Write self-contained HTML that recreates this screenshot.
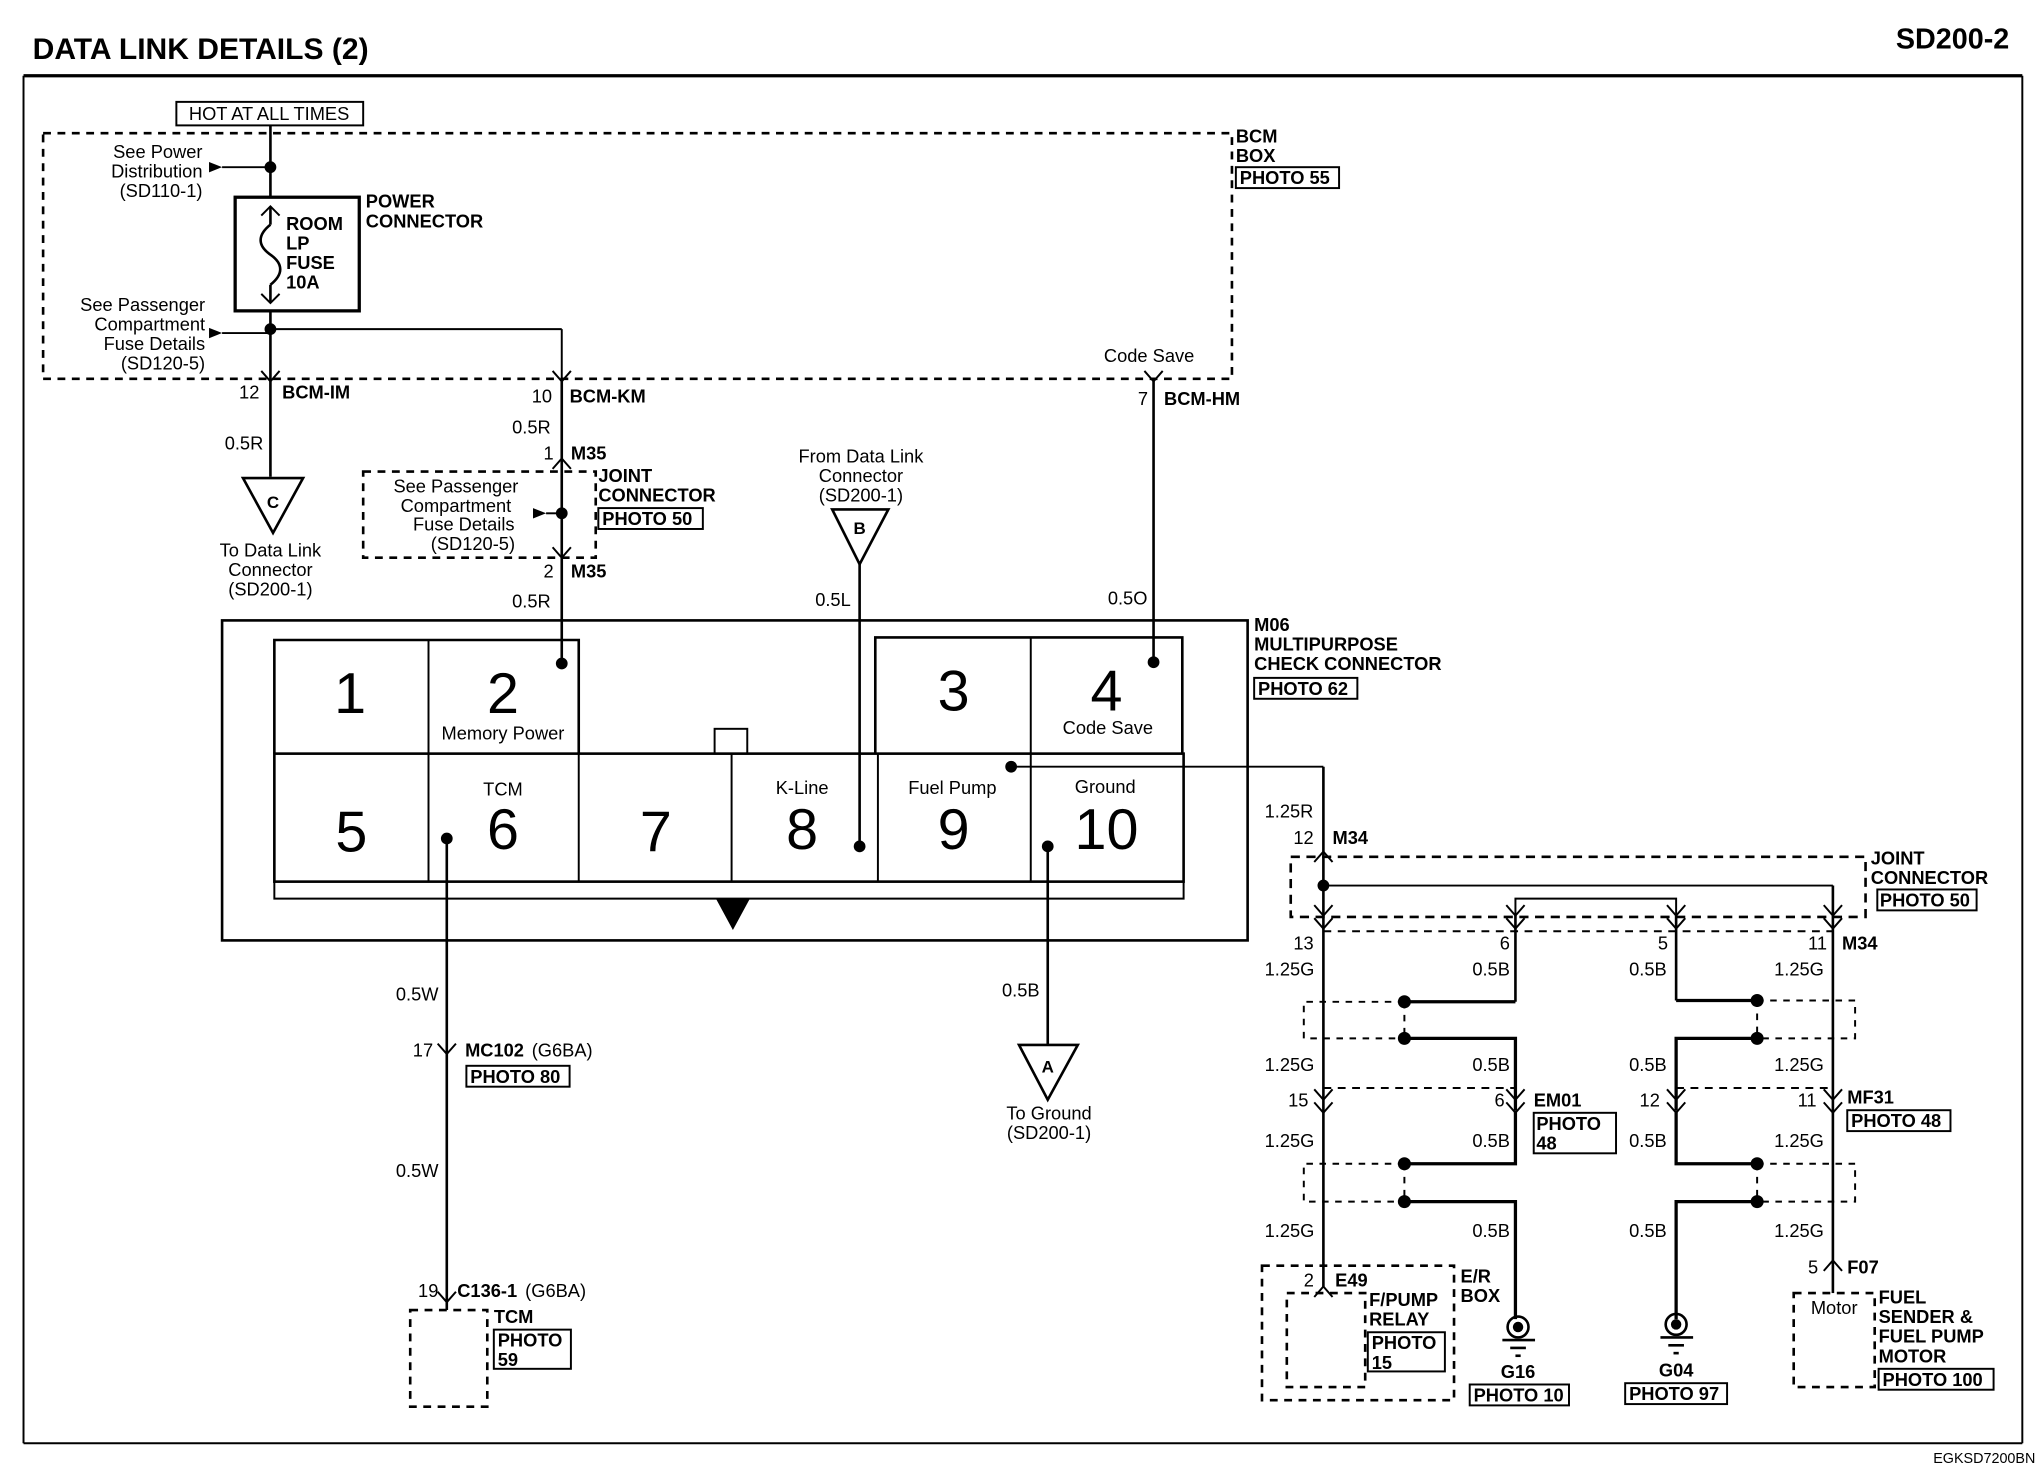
<!DOCTYPE html>
<html><head><meta charset="utf-8"><style>
html,body{margin:0;padding:0;background:#fff}
svg{display:block}
text{font-family:"Liberation Sans",Arial,sans-serif;fill:#000}
.l{font-size:14px}
.b{font-size:14px;font-weight:bold}
.n{font-size:44px}
.s{font-size:14px}
</style></head><body>
<svg width="2038" height="1472" viewBox="0 0 1560 1127" preserveAspectRatio="none" xmlns="http://www.w3.org/2000/svg">
<g stroke="#000" fill="none" stroke-width="1.5">
<!-- frame -->
<line x1="18" y1="58" x2="1548" y2="58" stroke-width="2.5"/>
<line x1="18" y1="58" x2="18" y2="1105"/>
<line x1="1548" y1="58" x2="1548" y2="1105"/>
<line x1="18" y1="1105" x2="1548" y2="1105"/>
<!-- BCM box -->
<rect x="33" y="102" width="910" height="188" stroke-dasharray="6,5" stroke-width="2"/>
<rect x="135" y="78" width="143" height="18"/>
<rect x="946" y="128" width="79" height="16"/>
<!-- main wire 207 -->
<line x1="207" y1="96" x2="207" y2="151" stroke-width="2"/>
<line x1="207" y1="128" x2="170" y2="128"/>
<rect x="180" y="151" width="95" height="87" stroke-width="2.5"/>
<line x1="207" y1="158" x2="207" y2="172" stroke-width="2"/>
<path d="M200 165 L207 158 L214 165"/>
<path d="M207 172 C197 180 197 188 207 195 C217 202 217 210 207 218" stroke-width="2"/>
<line x1="207" y1="218" x2="207" y2="232" stroke-width="2"/>
<path d="M200 225 L207 232 L214 225"/>
<line x1="207" y1="238" x2="207" y2="365" stroke-width="2"/>
<line x1="207" y1="255" x2="170" y2="255"/>
<line x1="207" y1="252" x2="430" y2="252"/>
<line x1="430" y1="252" x2="430" y2="290"/>
<path d="M200 284 L207 292 L214 284"/>
<path d="M423 284 L430 292 L437 284"/>
<path d="M876 284 L883 292 L890 284"/>
<!-- triangle C -->
<path d="M186 366 L232 366 L209 408 Z" stroke-width="2"/>
<!-- wire 430 -->
<line x1="430" y1="290" x2="430" y2="508" stroke-width="2"/>
<path d="M423 359 L430 351 L437 359"/>
<rect x="278" y="361" width="178" height="66" stroke-dasharray="6,5" stroke-width="2"/>
<line x1="430" y1="393" x2="418" y2="393"/>
<path d="M423 419 L430 427 L437 419"/>
<rect x="458" y="389" width="80" height="16"/>
<!-- triangle B -->
<path d="M637 390 L680 390 L658 432 Z" stroke-width="2"/>
<line x1="658" y1="432" x2="658" y2="648" stroke-width="2"/>
<!-- code save wire -->
<line x1="883" y1="290" x2="883" y2="507" stroke-width="2"/>
<!-- M06 -->
<rect x="170" y="475" width="785" height="245" stroke-width="2"/>
<rect x="960" y="519" width="79" height="16"/>
<path d="M210 577 L210 490 L443 490 L443 577" stroke-width="2"/>
<line x1="328" y1="490" x2="328" y2="675"/>
<path d="M670 577 L670 488 L905 488 L905 577" stroke-width="2"/>
<line x1="789" y1="488" x2="789" y2="675"/>
<rect x="210" y="577" width="696" height="98" stroke-width="2"/>
<line x1="443" y1="577" x2="443" y2="675"/>
<line x1="560" y1="577" x2="560" y2="675"/>
<line x1="672" y1="577" x2="672" y2="675"/>
<rect x="547" y="558" width="25" height="19"/>
<path d="M210 675 L210 688 L906 688 L906 675"/>
<!-- TCM wire -->
<line x1="342" y1="642" x2="342" y2="1003" stroke-width="2"/>
<path d="M335 799 L342 807 L349 799"/>
<rect x="357" y="816" width="79" height="16"/>
<path d="M335 989 L342 997 L349 989"/>
<rect x="314" y="1003" width="59" height="74" stroke-dasharray="6,5" stroke-width="2"/>
<rect x="378" y="1018" width="59" height="30"/>
<!-- ground A -->
<line x1="802" y1="648" x2="802" y2="800" stroke-width="2"/>
<path d="M780 800 L825 800 L802 842 Z" stroke-width="2"/>
<!-- fuel pump wire -->
<line x1="774" y1="587" x2="1013" y2="587"/>
<line x1="1013" y1="587" x2="1013" y2="985" stroke-width="2"/>
<path d="M1006 660 L1013 652 L1020 660"/>
<rect x="988" y="656" width="440" height="46" stroke-dasharray="7,5" stroke-width="2"/>
<rect x="1437" y="681" width="76" height="16"/>
<line x1="1013" y1="678" x2="1403" y2="678"/>
<line x1="1403" y1="678" x2="1403" y2="965" stroke-width="2"/>
<path d="M1160 700 L1160 688 L1283 688 L1283 700"/>
<line x1="1160" y1="700" x2="1160" y2="767" stroke-width="2"/>
<line x1="1283" y1="700" x2="1283" y2="766" stroke-width="2"/>
<path d="M1006 693 L1013 701 L1020 693 M1006 703 L1013 711 L1020 703"/>
<path d="M1153 693 L1160 701 L1167 693 M1153 703 L1160 711 L1167 703"/>
<path d="M1276 693 L1283 701 L1290 693 M1276 703 L1283 711 L1290 703"/>
<path d="M1396 693 L1403 701 L1410 693 M1396 703 L1403 711 L1410 703"/>
<line x1="1013" y1="713" x2="1403" y2="713" stroke-dasharray="6,5"/>
<!-- splice 1 -->
<path d="M1160 767 L1075 767" stroke-width="2.5"/>
<path d="M1075 795 L1160 795 L1160 850" stroke-width="2.5"/>
<path d="M1075 767 L998 767 L998 795 L1075 795 M1075 767 L1075 795" stroke-dasharray="5,5"/>
<path d="M1283 766 L1345 766" stroke-width="2.5"/>
<path d="M1345 795 L1283 795 L1283 850" stroke-width="2.5"/>
<path d="M1345 766 L1420 766 L1420 795 L1345 795 M1345 766 L1345 795" stroke-dasharray="5,5"/>
<!-- second connectors -->
<path d="M1006 834 L1013 842 L1020 834 M1006 844 L1013 852 L1020 844"/>
<path d="M1153 834 L1160 842 L1167 834 M1153 844 L1160 852 L1167 844"/>
<path d="M1276 834 L1283 842 L1290 834 M1276 844 L1283 852 L1290 844"/>
<path d="M1396 834 L1403 842 L1410 834 M1396 844 L1403 852 L1410 844"/>
<line x1="1013" y1="833" x2="1160" y2="833" stroke-dasharray="6,5"/>
<line x1="1283" y1="833" x2="1403" y2="833" stroke-dasharray="6,5"/>
<rect x="1174" y="852" width="63" height="31"/>
<rect x="1414" y="850" width="79" height="16"/>
<!-- splice 2 -->
<path d="M1160 850 L1160 891 L1075 891" stroke-width="2.5"/>
<path d="M1075 920 L1160 920 L1160 1010" stroke-width="2.5"/>
<path d="M1075 891 L998 891 L998 920 L1075 920 M1075 891 L1075 920" stroke-dasharray="5,5"/>
<path d="M1283 850 L1283 891 L1345 891" stroke-width="2.5"/>
<path d="M1345 920 L1283 920 L1283 1010" stroke-width="2.5"/>
<path d="M1345 891 L1420 891 L1420 920 L1345 920 M1345 891 L1345 920" stroke-dasharray="5,5"/>
<!-- E49 -->
<path d="M1006 993 L1013 985 L1020 993"/>
<rect x="966" y="969" width="147" height="103" stroke-dasharray="6,5" stroke-width="2"/>
<rect x="985" y="990" width="60" height="72" stroke-dasharray="6,5" stroke-width="2"/>
<rect x="1047" y="1020" width="59" height="30"/>
<!-- grounds -->
<circle cx="1162" cy="1016" r="8" stroke-width="2"/>
<line x1="1150" y1="1026" x2="1175" y2="1026" stroke-width="2"/>
<line x1="1156" y1="1032" x2="1168" y2="1032" stroke-width="2"/>
<line x1="1160" y1="1038" x2="1164" y2="1038" stroke-width="2"/>
<rect x="1125" y="1060" width="76" height="16"/>
<circle cx="1283" cy="1014" r="8" stroke-width="2"/>
<line x1="1271" y1="1024" x2="1296" y2="1024" stroke-width="2"/>
<line x1="1277" y1="1030" x2="1289" y2="1030" stroke-width="2"/>
<line x1="1281" y1="1036" x2="1285" y2="1036" stroke-width="2"/>
<rect x="1244" y="1059" width="78" height="16"/>
<!-- F07 -->
<path d="M1396 973 L1403 965 L1410 973"/>
<line x1="1403" y1="965" x2="1403" y2="990" stroke-width="2"/>
<rect x="1373" y="990" width="62" height="72" stroke-dasharray="6,5" stroke-width="2"/>
<rect x="1438" y="1048" width="88" height="16"/>
</g>
<g fill="#000">
<path d="M170 128 L160 124 L160 132 Z"/>
<path d="M170 255 L160 251 L160 259 Z"/>
<path d="M418 393 L408 389 L408 397 Z"/>
<circle cx="207" cy="128" r="4.5"/><circle cx="207" cy="252" r="4.5"/><circle cx="430" cy="393" r="4.5"/>
<circle cx="430" cy="508" r="4.5"/><circle cx="883" cy="507" r="4.5"/>
<circle cx="342" cy="642" r="4.5"/><circle cx="658" cy="648" r="4.5"/><circle cx="774" cy="587" r="4.5"/><circle cx="802" cy="648" r="4.5"/>
<circle cx="1013" cy="678" r="4.5"/>
<circle cx="1075" cy="767" r="5"/><circle cx="1075" cy="795" r="5"/><circle cx="1345" cy="766" r="5"/><circle cx="1345" cy="795" r="5"/>
<circle cx="1075" cy="891" r="5"/><circle cx="1075" cy="920" r="5"/><circle cx="1345" cy="891" r="5"/><circle cx="1345" cy="920" r="5"/>
<circle cx="1162" cy="1016" r="4"/><circle cx="1283" cy="1014" r="4"/>
<path d="M548 688 L574 688 L561 712 Z"/>
</g>
<!-- texts -->
<text x="25" y="45" style="font-size:23px;font-weight:bold">DATA LINK DETAILS (2)</text>
<text x="1538" y="37" text-anchor="end" style="font-size:22px;font-weight:bold">SD200-2</text>
<text x="1558" y="1120" text-anchor="end" style="font-size:11px">EGKSD7200BN</text>
<text x="206" y="92" text-anchor="middle" class="l">HOT AT ALL TIMES</text>
<text x="946" y="109" class="b">BCM</text><text x="946" y="124" class="b">BOX</text>
<text x="949" y="141" class="b">PHOTO 55</text>
<g text-anchor="end" class="l">
<text x="155" y="121">See Power</text><text x="155" y="136">Distribution</text><text x="155" y="151">(SD110-1)</text>
<text x="157" y="238">See Passenger</text><text x="157" y="253">Compartment</text><text x="157" y="268">Fuse Details</text><text x="157" y="283">(SD120-5)</text>
</g>
<text x="280" y="159" class="b">POWER</text><text x="280" y="174" class="b">CONNECTOR</text>
<text x="219" y="176" class="b">ROOM</text><text x="219" y="191" class="b">LP</text><text x="219" y="206" class="b">FUSE</text><text x="219" y="221" class="b">10A</text>
<text x="845" y="277" class="l">Code Save</text>
<text x="183" y="305" class="l">12</text><text x="216" y="305" class="b">BCM-IM</text>
<text x="407" y="308" class="l">10</text><text x="436" y="308" class="b">BCM-KM</text>
<text x="871" y="310" class="l">7</text><text x="891" y="310" class="b">BCM-HM</text>
<text x="172" y="344" class="l">0.5R</text>
<text x="209" y="389" text-anchor="middle" style="font-size:13px;font-weight:bold">C</text>
<g text-anchor="middle" class="l">
<text x="207" y="426">To Data Link</text><text x="207" y="441">Connector</text><text x="207" y="456">(SD200-1)</text>
<text x="349" y="377">See Passenger</text><text x="349" y="392">Compartment</text><text x="355" y="406">Fuse Details</text><text x="362" y="421">(SD120-5)</text>
<text x="659" y="354">From Data Link</text><text x="659" y="369">Connector</text><text x="659" y="384">(SD200-1)</text>
<text x="803" y="857">To Ground</text><text x="803" y="872">(SD200-1)</text>
</g>
<text x="392" y="332" class="l">0.5R</text>
<text x="416" y="352" class="l">1</text><text x="437" y="352" class="b">M35</text>
<text x="458" y="369" class="b">JOINT</text><text x="458" y="384" class="b">CONNECTOR</text><text x="461" y="402" class="b">PHOTO 50</text>
<text x="416" y="442" class="l">2</text><text x="437" y="442" class="b">M35</text>
<text x="392" y="465" class="l">0.5R</text>
<text x="658" y="409" text-anchor="middle" style="font-size:13px;font-weight:bold">B</text>
<text x="624" y="464" class="l">0.5L</text>
<text x="848" y="463" class="l">0.5O</text>
<text x="960" y="483" class="b">M06</text><text x="960" y="498" class="b">MULTIPURPOSE</text><text x="960" y="513" class="b">CHECK CONNECTOR</text><text x="963" y="532" class="b">PHOTO 62</text>
<g text-anchor="middle" class="n">
<text x="268" y="546">1</text><text x="385" y="546">2</text><text x="730" y="544">3</text><text x="847" y="544">4</text>
<text x="269" y="652">5</text><text x="385" y="650">6</text><text x="502" y="652">7</text><text x="614" y="650">8</text><text x="730" y="650">9</text><text x="847" y="650">10</text>
</g>
<g text-anchor="middle" class="l">
<text x="385" y="566">Memory Power</text><text x="848" y="562">Code Save</text>
<text x="385" y="609">TCM</text><text x="614" y="608">K-Line</text><text x="729" y="608">Fuel Pump</text><text x="846" y="607">Ground</text>
</g>
<text x="303" y="766" class="l">0.5W</text>
<text x="316" y="809" class="l">17</text><text x="356" y="809" class="b">MC102</text><text x="407" y="809" class="l">(G6BA)</text>
<text x="360" y="829" class="b">PHOTO 80</text>
<text x="303" y="901" class="l">0.5W</text>
<text x="320" y="993" class="l">19</text><text x="350" y="993" class="b">C136-1</text><text x="402" y="993" class="l">(G6BA)</text>
<text x="378" y="1013" class="b">TCM</text>
<text x="381" y="1031" class="b">PHOTO</text><text x="381" y="1046" class="b">59</text>
<text x="767" y="763" class="l">0.5B</text>
<text x="802" y="821" text-anchor="middle" style="font-size:13px;font-weight:bold">A</text>
<!-- right section -->
<text x="968" y="626" class="l">1.25R</text>
<text x="990" y="646" class="l">12</text><text x="1020" y="646" class="b">M34</text>
<text x="1432" y="662" class="b">JOINT</text><text x="1432" y="677" class="b">CONNECTOR</text><text x="1439" y="694" class="b">PHOTO 50</text>
<text x="990" y="727" class="l">13</text><text x="1148" y="727" class="l">6</text><text x="1269" y="727" class="l">5</text><text x="1384" y="727" class="l">11</text><text x="1410" y="727" class="b">M34</text>
<g class="l">
<text x="968" y="747">1.25G</text><text x="1127" y="747">0.5B</text><text x="1247" y="747">0.5B</text><text x="1358" y="747">1.25G</text>
<text x="968" y="820">1.25G</text><text x="1127" y="820">0.5B</text><text x="1247" y="820">0.5B</text><text x="1358" y="820">1.25G</text>
<text x="968" y="878">1.25G</text><text x="1127" y="878">0.5B</text><text x="1247" y="878">0.5B</text><text x="1358" y="878">1.25G</text>
<text x="968" y="947">1.25G</text><text x="1127" y="947">0.5B</text><text x="1247" y="947">0.5B</text><text x="1358" y="947">1.25G</text>
</g>
<text x="986" y="847" class="l">15</text>
<text x="1144" y="847" class="l">6</text><text x="1174" y="847" class="b">EM01</text>
<text x="1176" y="865" class="b">PHOTO</text><text x="1176" y="880" class="b">48</text>
<text x="1255" y="847" class="l">12</text>
<text x="1376" y="847" class="l">11</text><text x="1414" y="845" class="b">MF31</text>
<text x="1417" y="863" class="b">PHOTO 48</text>
<text x="998" y="985" class="l">2</text><text x="1022" y="985" class="b">E49</text>
<text x="1118" y="982" class="b">E/R</text><text x="1118" y="997" class="b">BOX</text>
<text x="1048" y="1000" class="b">F/PUMP</text><text x="1048" y="1015" class="b">RELAY</text>
<text x="1050" y="1033" class="b">PHOTO</text><text x="1050" y="1048" class="b">15</text>
<text x="1162" y="1055" text-anchor="middle" class="b">G16</text>
<text x="1128" y="1073" class="b">PHOTO 10</text>
<text x="1283" y="1054" text-anchor="middle" class="b">G04</text>
<text x="1247" y="1072" class="b">PHOTO 97</text>
<text x="1384" y="975" class="l">5</text><text x="1414" y="975" class="b">F07</text>
<text x="1404" y="1006" text-anchor="middle" class="l">Motor</text>
<text x="1438" y="998" class="b">FUEL</text><text x="1438" y="1013" class="b">SENDER &amp;</text><text x="1438" y="1028" class="b">FUEL PUMP</text><text x="1438" y="1043" class="b">MOTOR</text>
<text x="1441" y="1061" class="b">PHOTO 100</text>
</svg>
</body></html>
